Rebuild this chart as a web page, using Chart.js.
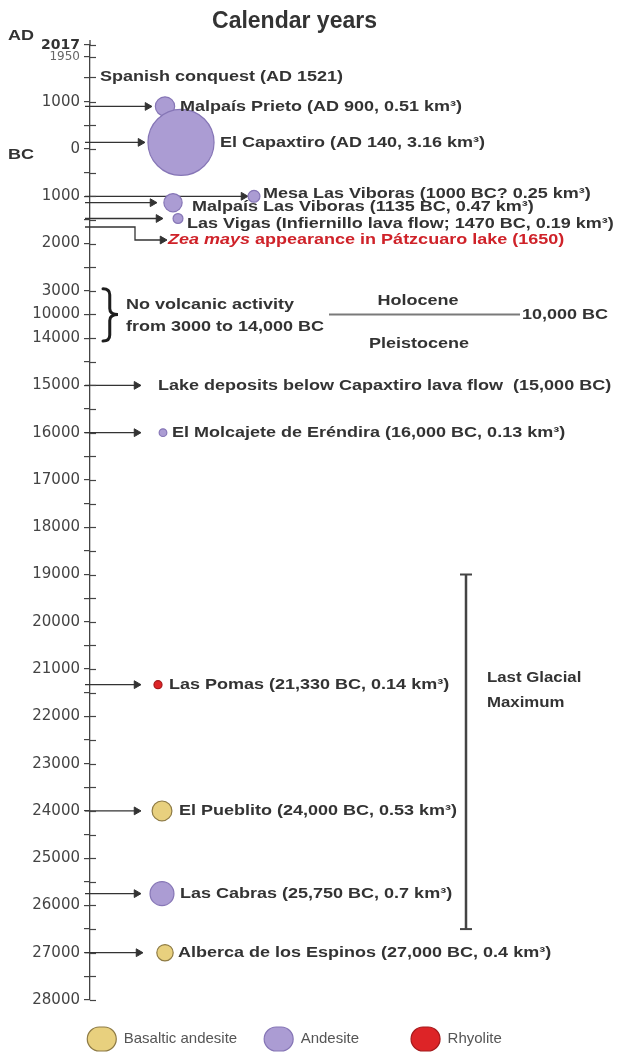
<!DOCTYPE html>
<html>
<head>
<meta charset="utf-8">
<title>Calendar years</title>
<script src="https://cdn.jsdelivr.net/npm/chart.js@4.4.1/dist/chart.umd.min.js"></script>
<style>
    html, body { margin: 0; padding: 0; background: #fff; }
    #chartWrap { width: 619px; height: 1052px; }
</style>
</head>
<body>
<div id="chartWrap"><canvas id="timelineChart"></canvas></div>
<script>
// ==================== DATA ====================

// Volcanic events (years BC, negative = AD)
const eventNames = ['Malpaís Prieto', 'El Capaxtiro', 'Mesa Las Viboras', 'Malpaís Las Viboras', 'Las Vigas',
    'El Molcajete de Eréndira', 'Las Pomas', 'El Pueblito', 'Las Cabras', 'Alberca de los Espinos'];
const eventYearsBC = [-900, -140, 1000, 1135, 1470, 16000, 21330, 24000, 25750, 27000];
const eventVolumes = [0.51, 3.16, 0.25, 0.47, 0.19, 0.13, 0.14, 0.53, 0.7, 0.4];
const eventRocks = ['Andesite', 'Andesite', 'Andesite', 'Andesite', 'Andesite',
    'Andesite', 'Rhyolite', 'Basaltic andesite', 'Andesite', 'Basaltic andesite'];
const eventLabels = [
    'Malpaís Prieto (AD 900, 0.51 km³)',
    'El Capaxtiro (AD 140, 3.16 km³)',
    'Mesa Las Viboras (1000 BC? 0.25 km³)',
    'Malpaís Las Viboras (1135 BC, 0.47 km³)',
    'Las Vigas (Infiernillo lava flow; 1470 BC, 0.19 km³)',
    'El Molcajete de Eréndira (16,000 BC, 0.13 km³)',
    'Las Pomas (21,330 BC, 0.14 km³)',
    'El Pueblito (24,000 BC, 0.53 km³)',
    'Las Cabras (25,750 BC, 0.7 km³)',
    'Alberca de los Espinos (27,000 BC, 0.4 km³)'
];

const rockTypes = ['Basaltic andesite', 'Andesite', 'Rhyolite'];

// Other dated notes
const noteTexts = ['Spanish conquest (AD 1521)', 'appearance in Pátzcuaro lake (1650)',
    'Lake deposits below Capaxtiro lava flow  (15,000 BC)'];
const noteYearsBC = [-1521, 1650, 15000];

const quietYearsBC = [3000, 14000];     // no volcanic activity
const boundaryYearBC = 10000;           // Holocene / Pleistocene
const glacialYearsBC = [19000, 26500];  // Last Glacial Maximum

// Axis ticks
const tickYearsBC = [-2017, -1950, -1521, -1000, -500, 0, 500, 1000, 1500, 2000, 2500, 3000, 10000, 14000, 14500,
    15000, 15500, 16000, 16500, 17000, 17500, 18000, 18500, 19000, 19500, 20000, 20500, 21000, 21500,
    22000, 22500, 23000, 23500, 24000, 24500, 25000, 25500, 26000, 26500, 27000, 27500, 28000];
const tickLabels = ['2017', '1950', '', '1000', '', '0', '', '1000', '', '2000', '', '3000', '10000', '14000', '',
    '15000', '', '16000', '', '17000', '', '18000', '', '19000', '', '20000', '', '21000', '',
    '22000', '', '23000', '', '24000', '', '25000', '', '26000', '', '27000', '', '28000'];

// ==================== LAYOUT / STYLE ====================

// x positions in pixels of the drawing (x scale runs 90..584)
const bubbleX = [165, 181, 254, 173, 178, 163, 158, 162, 162, 165];
const arrowTipX = [152, 145, 248, 157, 163, 141, 141, 141, 141, 143];
const labelX = [180, 220, 263, 192, 187, 172, 169, 179, 180, 178];
const labelDy = [0, 0, -2, 4, 5, 0, 0, 0, 0, 0];

const INK = '#333';
const AXIS_COLOR = '#444';
const STUB_X = 85;
const HEAD = 4.5;
const LABEL_FONT = 'bold 15px "Liberation Sans"';
const STRETCH = 1.2;

const rockColors = {
    'Basaltic andesite': { fill: '#e8d07e', line: '#8e7b45' },
    'Andesite': { fill: '#ab9cd3', line: '#8676b6' },
    'Rhyolite': { fill: '#dd2427', line: '#a51a1c' }
};
const legendSpacer = ['', '      ', ''];

// Broken time axis: 3000-14,000 BC squeezed, 1950-2017 AD stretched
function axisPos(yearBC) {
    if (yearBC < -1950) return -1950 - (-1950 - yearBC) * 250 / 67;
    if (yearBC <= 3000) return yearBC;
    if (yearBC <= 10000) return 3000 + (yearBC - 3000) * 500 / 7000;
    if (yearBC <= 14000) return 3500 + (yearBC - 10000) * 500 / 4000;
    return 4000 + (yearBC - 14000);
}

// Bubble radius from erupted volume (km³)
function volumeToRadius(v) {
    return 15.2 * Math.pow(v, 0.675);
}

// Arrow line with a head on its last point
function arrowSet(points) {
    return {
        type: 'line',
        label: '',
        data: points,
        borderColor: INK,
        borderWidth: 1.3,
        fill: false,
        tension: 0,
        clip: false,
        pointStyle: 'triangle',
        pointRotation: 90,
        pointBackgroundColor: INK,
        pointBorderColor: INK,
        pointBorderWidth: 1,
        pointRadius: ctx => ctx.dataIndex === points.length - 1 ? HEAD : 0
    };
}

// Build datasets
function buildDatasets() {
    const bubbles = rockTypes.map(rock => ({
        type: 'bubble',
        label: rock,
        data: eventNames.map((n, i) => i)
            .filter(i => eventRocks[i] === rock)
            .map(i => ({ x: bubbleX[i], y: axisPos(eventYearsBC[i]), r: volumeToRadius(eventVolumes[i]) })),
        backgroundColor: rockColors[rock].fill,
        borderColor: rockColors[rock].line,
        borderWidth: 1.2,
        clip: false
    }));

    const arrows = eventYearsBC.map((yr, i) => arrowSet([
        { x: STUB_X, y: axisPos(yr) },
        { x: arrowTipX[i] - HEAD, y: axisPos(yr) }
    ]));

    // Zea mays: elbow arrow dropping down to its text row
    const zea = axisPos(noteYearsBC[1]);
    arrows.push(arrowSet([
        { x: STUB_X, y: zea }, { x: 135, y: zea }, { x: 135, y: zea + 275 }, { x: 167 - HEAD, y: zea + 275 }
    ]));
    // Lake deposits
    const lake = axisPos(noteYearsBC[2]);
    arrows.push(arrowSet([{ x: STUB_X, y: lake }, { x: 141 - HEAD, y: lake }]));

    const boundary = {
        type: 'line', label: '',
        data: [{ x: 329, y: axisPos(boundaryYearBC) }, { x: 520, y: axisPos(boundaryYearBC) }],
        borderColor: '#7a7a7a', borderWidth: 1.8, pointRadius: 0, clip: false
    };

    const glacial = {
        type: 'line', label: '',
        data: [{ x: 466, y: axisPos(glacialYearsBC[0]) }, { x: 466, y: axisPos(glacialYearsBC[1]) }],
        borderColor: AXIS_COLOR, borderWidth: 2.5,
        pointStyle: 'line', pointRadius: 6, pointBorderWidth: 2, pointBorderColor: AXIS_COLOR, clip: false
    };

    return [...bubbles, ...arrows, boundary, glacial];
}

// Stretched text, like the original figure
function drawText(ctx, text, x, y, font, color, align) {
    ctx.save();
    ctx.font = font;
    ctx.fillStyle = color;
    ctx.textBaseline = 'middle';
    ctx.textAlign = align || 'left';
    ctx.translate(x, y);
    ctx.scale(STRETCH, 1);
    ctx.fillText(text, 0, 0);
    const w = ctx.measureText(text).width * STRETCH;
    ctx.restore();
    return w;
}

function drawBrace(ctx, x, top, mid, bottom, depth) {
    const xm = x + depth * 0.45;
    ctx.beginPath();
    ctx.moveTo(x, top);
    ctx.quadraticCurveTo(xm, top, xm, top + 6);
    ctx.lineTo(xm, mid - 6);
    ctx.quadraticCurveTo(xm, mid, x + depth, mid);
    ctx.quadraticCurveTo(xm, mid, xm, mid + 6);
    ctx.lineTo(xm, bottom - 6);
    ctx.quadraticCurveTo(xm, bottom, x, bottom);
    ctx.stroke();
}

// Annotation plugin: tick stubs, event labels, brace, epochs
const timelineAnnotations = {
    id: 'timelineAnnotations',
    afterDatasetsDraw(chart) {
        const { ctx, chartArea } = chart;
        const x = chart.scales.x;
        const y = chart.scales.y;
        const left = chartArea.left;

        // Right half of each tick + axis top
        ctx.save();
        ctx.strokeStyle = AXIS_COLOR;
        ctx.lineWidth = 1.2;
        y.ticks.forEach((t, i) => {
            const py = Math.round(y.getPixelForTick(i)) + 0.5;
            ctx.beginPath();
            ctx.moveTo(left, py);
            ctx.lineTo(left + 6, py);
            ctx.stroke();
        });
        ctx.lineWidth = 1.3;
        ctx.beginPath();
        ctx.moveTo(left, chartArea.top - 5);
        ctx.lineTo(left, chartArea.top);
        ctx.stroke();
        ctx.restore();

        // AD / BC
        drawText(ctx, 'AD', 8, y.getPixelForValue(axisPos(-2017)) - 9, LABEL_FONT, INK);
        drawText(ctx, 'BC', 8, y.getPixelForValue(axisPos(0)) + 6, LABEL_FONT, INK);

        // Event labels
        eventLabels.forEach((text, i) => {
            const py = y.getPixelForValue(axisPos(eventYearsBC[i])) + labelDy[i];
            drawText(ctx, text, x.getPixelForValue(labelX[i]), py, LABEL_FONT, INK);
        });

        // Notes
        drawText(ctx, noteTexts[0], x.getPixelForValue(100), y.getPixelForValue(axisPos(noteYearsBC[0])), LABEL_FONT, INK);
        const zeaY = y.getPixelForValue(axisPos(noteYearsBC[1]) + 275);
        const zw = drawText(ctx, 'Zea mays', x.getPixelForValue(168), zeaY, 'italic bold 15px "Liberation Sans"', '#cf2229');
        drawText(ctx, ' ' + noteTexts[1], x.getPixelForValue(168) + zw, zeaY, LABEL_FONT, '#cf2229');
        drawText(ctx, noteTexts[2], x.getPixelForValue(158), y.getPixelForValue(axisPos(noteYearsBC[2])), LABEL_FONT, INK);

        // No volcanic activity brace
        const bTop = y.getPixelForValue(axisPos(quietYearsBC[0]));
        const bBot = y.getPixelForValue(axisPos(quietYearsBC[1]));
        const bMid = y.getPixelForValue(axisPos(boundaryYearBC));
        ctx.save();
        ctx.strokeStyle = '#1e1e1e';
        ctx.lineWidth = 3;
        ctx.lineCap = 'round';
        drawBrace(ctx, 103, bTop - 2, bMid, bBot + 3, 15);
        ctx.restore();
        drawText(ctx, 'No volcanic activity', 126, bMid - 10, LABEL_FONT, INK);
        drawText(ctx, 'from 3000 to 14,000 BC', 126, bMid + 12, LABEL_FONT, INK);

        // Holocene / Pleistocene
        drawText(ctx, 'Holocene', x.getPixelForValue(418), bMid - 14, LABEL_FONT, INK, 'center');
        drawText(ctx, 'Pleistocene', x.getPixelForValue(419), bMid + 29, LABEL_FONT, INK, 'center');
        drawText(ctx, '10,000 BC', x.getPixelForValue(522), bMid, LABEL_FONT, INK);

        // Last Glacial Maximum
        const lgmFont = 'bold 14px "Liberation Sans"';
        drawText(ctx, 'Last Glacial', x.getPixelForValue(487), y.getPixelForValue(axisPos(21200)), lgmFont, INK);
        drawText(ctx, 'Maximum', x.getPixelForValue(487), y.getPixelForValue(axisPos(21720)), lgmFont, INK);
    }
};

// Create timeline chart
function createTimelineChart() {
    const ctx = document.getElementById('timelineChart').getContext('2d');

    return new Chart(ctx, {
        type: 'bubble',
        data: { datasets: buildDatasets() },
        plugins: [timelineAnnotations],
        options: {
            responsive: true,
            maintainAspectRatio: false,
            animation: false,
            events: [],
            layout: { padding: { left: 5, right: 35, top: 0, bottom: 0 } },
            plugins: {
                title: {
                    display: true,
                    text: 'Calendar years',
                    color: INK,
                    font: { family: 'Liberation Sans', size: 23, weight: 'bold' },
                    padding: { top: 8, bottom: 9.4 }
                },
                legend: {
                    position: 'bottom',
                    maxHeight: 52,
                    labels: {
                        boxWidth: 29,
                        boxHeight: 24,
                        useBorderRadius: true,
                        borderRadius: 12,
                        padding: 27,
                        color: '#555',
                        font: { family: 'Liberation Sans', size: 15 },
                        generateLabels: chart => Chart.defaults.plugins.legend.labels.generateLabels(chart)
                            .filter(item => item.datasetIndex < rockTypes.length)
                            .map(item => Object.assign(item, { text: item.text + legendSpacer[item.datasetIndex] }))
                    }
                },
                tooltip: { enabled: false }
            },
            scales: {
                x: { type: 'linear', display: false, min: 90, max: 584 },
                y: {
                    type: 'linear',
                    reverse: true,
                    min: axisPos(-2017),
                    max: axisPos(28000),
                    afterFit: scale => { scale.width = 85; },
                    afterBuildTicks: scale => {
                        scale.ticks = tickYearsBC.map(v => ({ value: axisPos(v) }));
                    },
                    ticks: {
                        autoSkip: false,
                        padding: 4,
                        callback: (value, index) => tickLabels[index],
                        color: c => c.index === 0 ? INK : (c.index === 1 ? '#666' : '#444'),
                        font: c => c.index === 0
                            ? { family: 'DejaVu Sans', size: 14, weight: 'bold' }
                            : { family: 'DejaVu Sans', size: c.index === 1 ? 12 : 15 }
                    },
                    grid: {
                        display: true,
                        drawOnChartArea: false,
                        drawTicks: true,
                        tickLength: 6,
                        color: AXIS_COLOR,
                        lineWidth: 1.2
                    },
                    border: { display: true, color: AXIS_COLOR, width: 1.3 }
                }
            }
        }
    });
}

document.addEventListener('DOMContentLoaded', function() {
    createTimelineChart();
});
</script>
</body>
</html>
